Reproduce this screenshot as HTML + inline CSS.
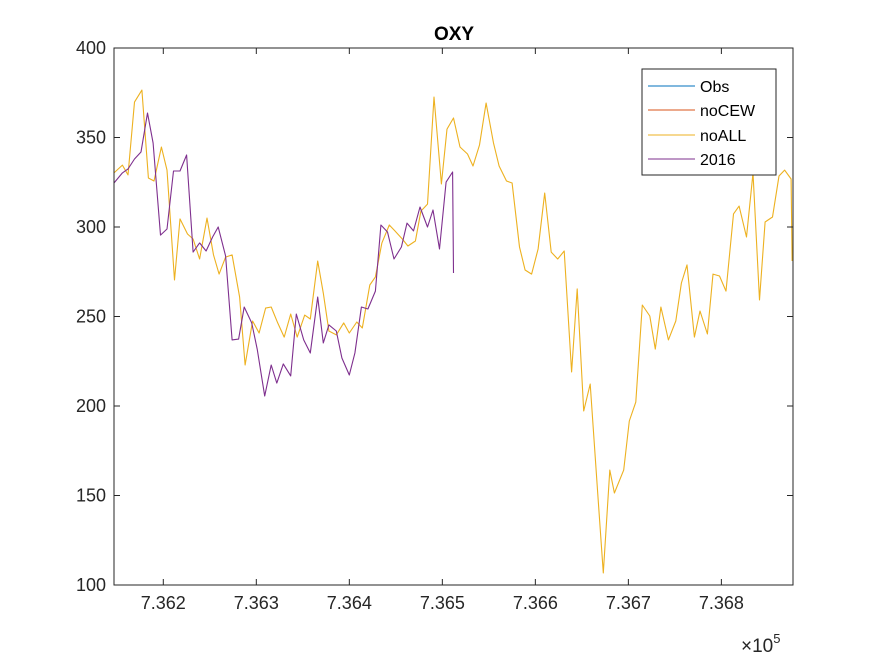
<!DOCTYPE html>
<html><head><meta charset="utf-8"><style>
body{margin:0;background:#fff;}
svg{display:block;font-family:"Liberation Sans",Arial,sans-serif;}
</style></head><body>
<svg id="chart" width="875" height="656" viewBox="0 0 875 656" xmlns="http://www.w3.org/2000/svg">
<rect width="875" height="656" fill="#fff"/>
<text x="454" y="40" text-anchor="middle" font-size="19" font-weight="bold" fill="#000">OXY</text>
<g id="series"></g>
<g id="axes"></g>
<g>
<rect x="642" y="69" width="134" height="106" fill="#fff" stroke="#262626" stroke-width="1"/>
<g><line x1="648" y1="86" x2="695" y2="86" stroke="#0072BD"/><text x="700" y="92" font-size="16">Obs</text></g>
<g><line x1="648" y1="110" x2="695" y2="110" stroke="#D95319"/><text x="700" y="116" font-size="16">noCEW</text></g>
<g><line x1="648" y1="135" x2="695" y2="135" stroke="#EDB120"/><text x="700" y="141" font-size="16">noALL</text></g>
<g><line x1="648" y1="159" x2="695" y2="159" stroke="#7E2F8E"/><text x="700" y="165" font-size="16">2016</text></g>
</g>
<text x="741" y="652" font-size="19" fill="#262626">×10<tspan font-size="13" dy="-9">5</tspan></text>
</svg>
<script>
const noAllX=[736147,736156,736162,736169,736177,736184,736190,736198,736204,736212,736218,736226,736232,736239,736247,736254,736260,736267,736274,736282,736288,736296,736303,736310,736316,736323,736330,736337,736344,736352,736358,736366,736372,736378,736386,736394,736400,736408,736414,736422,736428,736435,736443,736449,736457,736463,736471,736477,736484,736491,736499,736505,736512,736519,736527,736533,736540,736547,736555,736561,736569,736575,736583,736589,736596,736603,736610,736617,736624,736631,736639,736645,736652,736659,736667,736673,736680,736685,736695,736701,736708,736715,736723,736729,736735,736743,736751,736757,736763,736771,736777,736785,736791,736798,736805,736813,736819,736827,736834,736841,736847,736855,736862,736868,736875,736876];
const noAllY=[330.2,334.6,329.1,369.8,376.5,327.4,325.7,344.7,331.8,270.4,304.5,296.1,293.3,282.1,305.0,284.4,273.7,283.2,284.4,260.9,222.9,247.5,240.8,254.7,255.3,246.4,238.5,251.4,238.5,250.8,248.6,281.0,263.1,241.9,239.7,246.4,240.8,246.9,243.6,267.6,272.1,291.1,301.1,297.8,293.3,289.4,292.2,308.9,312.8,372.6,324.0,354.7,360.9,344.7,340.8,334.1,345.8,369.3,346.9,334.1,325.7,324.6,288.8,276.0,273.7,287.7,319.0,286.0,282.1,286.6,219.0,265.4,197.2,212.3,151.4,106.7,164.2,151.4,164.2,191.6,202.2,256.4,250.3,231.8,255.3,236.9,247.5,268.7,278.8,238.5,253.1,240.2,273.7,272.6,264.2,307.3,311.7,294.4,330.2,259.2,302.8,305.6,328.5,331.8,326.8,281.0];
const y2016X=[736147,736156,736162,736169,736176,736183,736189,736197,736204,736211,736218,736225,736232,736239,736246,736253,736259,736267,736274,736281,736287,736295,736301,736309,736316,736322,736329,736337,736343,736351,736358,736366,736372,736378,736386,736392,736400,736406,736413,736420,736428,736434,736441,736448,736456,736462,736469,736476,736484,736490,736497,736504,736511,736512];
const y2016Y=[324.6,330.2,332.4,338.0,341.9,363.7,346.9,295.5,298.9,331.3,331.3,340.2,286.0,291.1,286.6,294.4,300.0,283.8,236.9,237.4,255.3,246.4,231.8,205.6,222.9,212.8,223.5,216.8,251.4,236.9,229.6,260.9,235.2,245.3,241.9,226.8,217.3,229.6,255.3,254.2,264.2,301.1,297.2,282.1,288.8,302.2,297.8,311.2,300.0,309.5,287.7,325.1,330.7,274.3];
const xTicks=[736200,736300,736400,736500,736600,736700,736800];
const xTickLabels=["7.362","7.363","7.364","7.365","7.366","7.367","7.368"];
const yTicks=[100,150,200,250,300,350,400];
const yTickLabels=["100","150","200","250","300","350","400"];
const L=114,R=793,T=48,B=585,XMIN=736147,XMAX=736877,YMIN=100,YMAX=400;
const sx=v=>L+(v-XMIN)/(XMAX-XMIN)*(R-L);
const sy=v=>B-(v-YMIN)/(YMAX-YMIN)*(B-T);
const NS="http://www.w3.org/2000/svg";
function mk(tag,attrs,parent){const e=document.createElementNS(NS,tag);for(const k in attrs)e.setAttribute(k,attrs[k]);parent.appendChild(e);return e;}
const series=document.getElementById('series');
const axes=document.getElementById('axes');
function line(xs,ys,color,name){
  const pts=xs.map((x,i)=>sx(x).toFixed(1)+','+sy(ys[i]).toFixed(1)).join(' ');
  const p=mk('polyline',{points:pts,fill:'none',stroke:color,'stroke-width':1.1,'stroke-linejoin':'round'},series);
  
  
}
line(noAllX,noAllY,'#EDB120','series-noall-line');
line(y2016X,y2016Y,'#7E2F8E','series-2016-line');
const box=mk('rect',{x:L,y:T,width:R-L,height:B-T,fill:'none',stroke:'#262626','stroke-width':1},axes);


xTicks.forEach((t,i)=>{
  const x=sx(t);
  mk('line',{x1:x,y1:B,x2:x,y2:B-6,stroke:'#262626'},axes);
  mk('line',{x1:x,y1:T,x2:x,y2:T+6,stroke:'#262626'},axes);
  const tx=mk('text',{x:x,y:B+24,'text-anchor':'middle','font-size':18,fill:'#262626'},axes);
  tx.textContent=xTickLabels[i];
  
  
});
yTicks.forEach((t,i)=>{
  const y=sy(t);
  mk('line',{x1:L,y1:y,x2:L+6,y2:y,stroke:'#262626'},axes);
  mk('line',{x1:R,y1:y,x2:R-6,y2:y,stroke:'#262626'},axes);
  const tx=mk('text',{x:L-8,y:y+6,'text-anchor':'end','font-size':18,fill:'#262626'},axes);
  tx.textContent=yTickLabels[i];
  
  
});
</script>
</body></html>
